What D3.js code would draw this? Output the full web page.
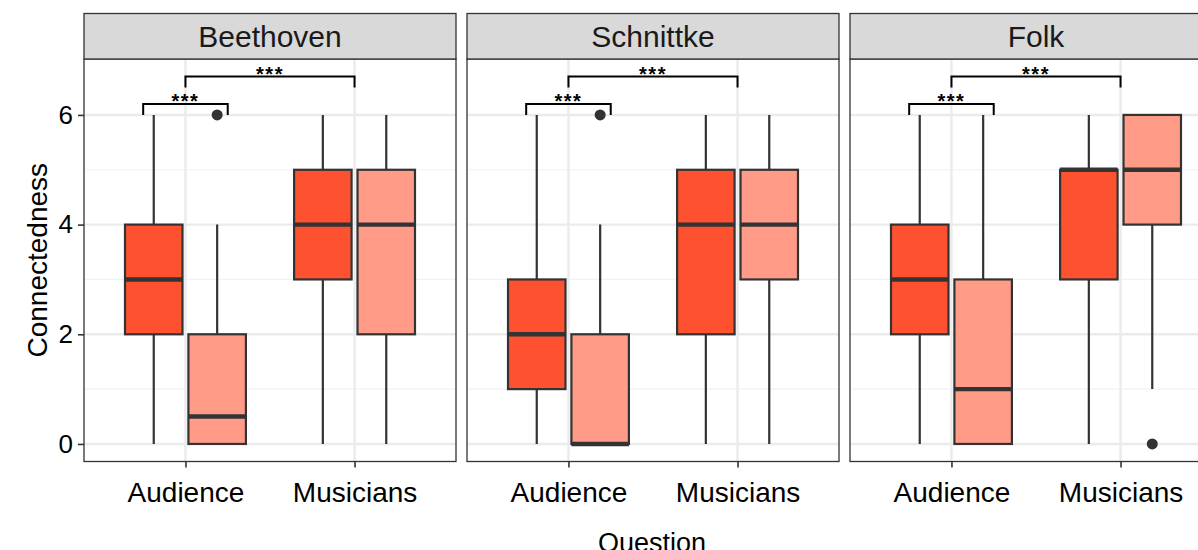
<!DOCTYPE html>
<html>
<head>
<meta charset="utf-8">
<script src="https://cdn.jsdelivr.net/npm/d3@7"></script>
<style>
  html, body { margin: 0; padding: 0; background: #fff; }
  svg { display: block; font-family: "Liberation Sans", Arial, Helvetica, sans-serif; }
</style>
</head>
<body>
<svg id="chart" width="1198" height="550"></svg>
<script>
// Facets, categories and fill groups
const facets = ["Beethoven", "Schnittke", "Folk"];
const questions = ["Audience", "Musicians"];
const groups = ["g1", "g2"];
const groupColors = ["#FD5130", "#FF9B86"];

// Box statistics per facet: [lower whisker, Q1, median, Q3, upper whisker]
// order: Audience g1, Audience g2, Musicians g1, Musicians g2
const beethovenStats = [[0, 2, 3, 4, 6], [0, 0, 0.5, 2, 4], [0, 3, 4, 5, 6], [0, 2, 4, 5, 6]];
const schnittkeStats = [[0, 1, 2, 3, 6], [0, 0, 0, 2, 4], [0, 2, 4, 5, 6], [0, 3, 4, 5, 6]];
const folkStats      = [[0, 2, 3, 4, 6], [0, 0, 1, 3, 6], [0, 3, 5, 5, 6], [1, 4, 5, 6, 6]];

// Outlying points per box, same order
const beethovenOutliers = [[], [6], [], []];
const schnittkeOutliers = [[], [6], [], []];
const folkOutliers      = [[], [], [], [0]];

// Significance brackets: [x from, x to, tip level, bar level, label]
const bracketFrom  = [-0.25, 0];
const bracketTo    = [0.25, 1];
const bracketTip   = [6.0, 6.5];
const bracketBar   = [6.2, 6.7];
const bracketLabel = ["***", "***"];

const yTicks = [0, 2, 4, 6];
const yMinor = [1, 3, 5];
const yDomain = [-0.32, 7.02];

const allStats = [beethovenStats, schnittkeStats, folkStats];
const allOutliers = [beethovenOutliers, schnittkeOutliers, folkOutliers];

// Layout
const panelLeft = 84, panelW = 372, panelGap = 11;
const stripTop = 13.5, stripH = 45.5;
const panelTop = stripTop + stripH, panelBottom = 461.5;
const panelH = panelBottom - panelTop;
const dodge = 0.1875, boxW = 0.34;

const svg = d3.select("#chart");

const y = d3.scaleLinear().domain(yDomain).range([panelH, 0]);
const x = d3.scalePoint().domain(questions).range([0, panelW]).padding(0.6);
const step = x.step();
const xv = v => x(questions[0]) + v * step; // numeric position in category units

facets.forEach((facet, fi) => {
  const px = panelLeft + fi * (panelW + panelGap);
  const g = svg.append("g").attr("transform", `translate(${px},${panelTop})`);

  // clip to panel
  const clipId = "clip" + fi;
  svg.append("clipPath").attr("id", clipId)
    .append("rect").attr("x", 0).attr("y", 0).attr("width", panelW).attr("height", panelH);
  const inner = g.append("g").attr("clip-path", `url(#${clipId})`);

  // grid
  inner.selectAll(".minor").data(yMinor).join("line")
    .attr("x1", 0).attr("x2", panelW).attr("y1", d => y(d)).attr("y2", d => y(d))
    .attr("stroke", "#F2F2F2").attr("stroke-width", 1.2);
  inner.selectAll(".major").data(yTicks).join("line")
    .attr("x1", 0).attr("x2", panelW).attr("y1", d => y(d)).attr("y2", d => y(d))
    .attr("stroke", "#EBEBEB").attr("stroke-width", 2.4);
  inner.selectAll(".vmajor").data(questions).join("line")
    .attr("x1", d => x(d)).attr("x2", d => x(d)).attr("y1", 0).attr("y2", panelH)
    .attr("stroke", "#EBEBEB").attr("stroke-width", 2.4);

  // boxes
  const stats = allStats[fi];
  const outs = allOutliers[fi];
  stats.forEach((s, bi) => {
    const q = questions[Math.floor(bi / 2)];
    const gi = bi % 2;
    const cx = x(q) + (gi === 0 ? -dodge : dodge) * step;
    const half = boxW * step / 2;
    const [lo, q1, med, q3, hi] = s;
    const bg = inner.append("g");
    // whiskers
    bg.append("line").attr("x1", cx).attr("x2", cx).attr("y1", y(q3)).attr("y2", y(hi))
      .attr("stroke", "#333").attr("stroke-width", 2.2);
    bg.append("line").attr("x1", cx).attr("x2", cx).attr("y1", y(q1)).attr("y2", y(lo))
      .attr("stroke", "#333").attr("stroke-width", 2.2);
    // box
    bg.append("rect").attr("x", cx - half).attr("width", 2 * half)
      .attr("y", y(q3)).attr("height", y(q1) - y(q3))
      .attr("fill", groupColors[gi]).attr("stroke", "#333").attr("stroke-width", 2.2);
    // median
    bg.append("line").attr("x1", cx - half).attr("x2", cx + half)
      .attr("y1", y(med)).attr("y2", y(med))
      .attr("stroke", "#333").attr("stroke-width", 4.4);
    // outliers
    bg.selectAll("circle").data(outs[bi]).join("circle")
      .attr("cx", cx).attr("cy", d => y(d)).attr("r", 5.5).attr("fill", "#333");
  });

  // significance brackets
  bracketFrom.forEach((f, i) => {
    const x1 = xv(f), x2 = xv(bracketTo[i]);
    const path = d3.path();
    path.moveTo(x1, y(bracketTip[i]));
    path.lineTo(x1, y(bracketBar[i]));
    path.lineTo(x2, y(bracketBar[i]));
    path.lineTo(x2, y(bracketTip[i]));
    g.append("path").attr("d", path.toString()).attr("fill", "none")
      .attr("stroke", "#000").attr("stroke-width", 2);
    g.append("text").attr("x", (x1 + x2) / 2).attr("y", y(bracketBar[i]) + 4)
      .attr("text-anchor", "middle").attr("font-size", 20).attr("font-weight", "bold")
      .attr("letter-spacing", 1.5).attr("fill", "#000").text(bracketLabel[i]);
  });

  // panel border
  g.append("rect").attr("x", 0).attr("y", 0).attr("width", panelW).attr("height", panelH)
    .attr("fill", "none").attr("stroke", "#333").attr("stroke-width", 1.3);

  // strip
  const strip = svg.append("g").attr("transform", `translate(${px},${stripTop})`);
  strip.append("rect").attr("width", panelW).attr("height", stripH)
    .attr("fill", "#D9D9D9").attr("stroke", "#333").attr("stroke-width", 1.3);
  strip.append("text").attr("x", panelW / 2).attr("y", stripH / 2 + 10.5)
    .attr("text-anchor", "middle").attr("font-size", 30).attr("fill", "#1A1A1A").text(facet);

  // x axis
  const xAxis = d3.axisBottom(x).tickSize(6).tickPadding(15);
  const xa = g.append("g").attr("transform", `translate(0,${panelH})`).call(xAxis);
  xa.select(".domain").remove();
  xa.selectAll(".tick line").attr("stroke", "#333").attr("stroke-width", 1.6);
  xa.selectAll(".tick text").attr("font-size", 28).attr("fill", "#000")
    .attr("font-family", "Liberation Sans, Arial, sans-serif");

  // y axis on first panel
  if (fi === 0) {
    const yAxis = d3.axisLeft(y).tickValues(yTicks).tickSize(6).tickPadding(5);
    const ya = g.append("g").call(yAxis);
    ya.select(".domain").remove();
    ya.selectAll(".tick line").attr("stroke", "#333").attr("stroke-width", 1.6);
    ya.selectAll(".tick text").attr("font-size", 26).attr("fill", "#000")
      .attr("font-family", "Liberation Sans, Arial, sans-serif");
  }
});

// axis titles
svg.append("text").attr("transform", `translate(47,${(panelTop + panelBottom) / 2}) rotate(-90)`)
  .attr("text-anchor", "middle").attr("font-size", 28).attr("fill", "#000").text("Connectedness");
svg.append("text").attr("x", 652).attr("y", 552)
  .attr("text-anchor", "middle").attr("font-size", 27).attr("fill", "#000").text("Question");
</script>
</body>
</html>
